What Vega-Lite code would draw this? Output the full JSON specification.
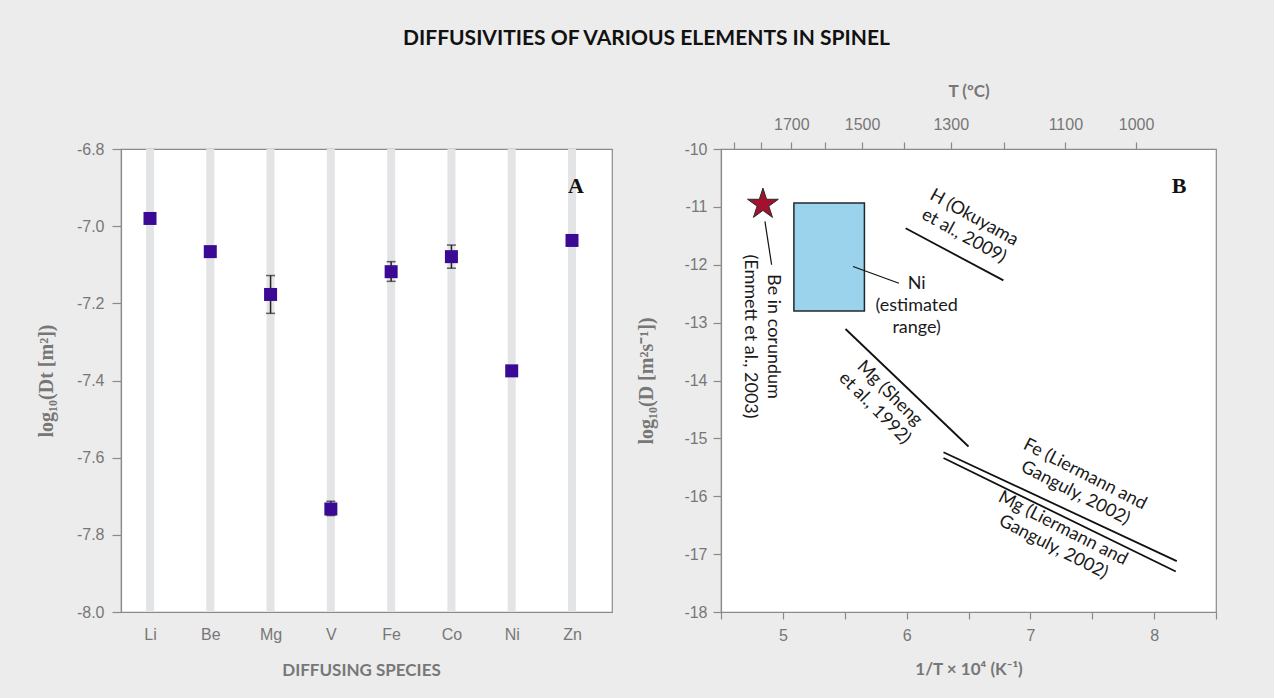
{
  "$schema": "https://vega.github.io/schema/vega-lite/v6.json",
  "background": "#ececec",
  "padding": {"left": 35, "top": 28, "right": 56, "bottom": 22},
  "title": {"text": "DIFFUSIVITIES OF VARIOUS ELEMENTS IN SPINEL", "font": "Lato", "fontSize": 21, "fontWeight": "bold", "color": "#111111", "anchor": "middle", "offset": 32, "dx": 20},
  "datasets": {
    "spinel": [
      {"species": "Li", "logDt": -6.98, "lo": null, "hi": null},
      {"species": "Be", "logDt": -7.066, "lo": null, "hi": null},
      {"species": "Mg", "logDt": -7.177, "lo": -7.226, "hi": -7.128},
      {"species": "V", "logDt": -7.733, "lo": -7.75, "hi": -7.713},
      {"species": "Fe", "logDt": -7.118, "lo": -7.143, "hi": -7.092},
      {"species": "Co", "logDt": -7.079, "lo": -7.109, "hi": -7.049},
      {"species": "Ni", "logDt": -7.375, "lo": null, "hi": null},
      {"species": "Zn", "logDt": -7.037, "lo": null, "hi": null}
    ],
    "segments": [
      {"name": "H (Okuyama et al., 2009)", "kind": "trend", "x": 5.992, "y": -11.37, "x2": 6.782, "y2": -12.27},
      {"name": "Mg (Sheng et al., 1992)", "kind": "trend", "x": 5.506, "y": -13.11, "x2": 6.50, "y2": -15.14},
      {"name": "Fe (Liermann and Ganguly, 2002)", "kind": "trend", "x": 6.298, "y": -15.24, "x2": 8.183, "y2": -17.12},
      {"name": "Mg (Liermann and Ganguly, 2002)", "kind": "trend", "x": 6.298, "y": -15.34, "x2": 8.175, "y2": -17.30},
      {"name": "Be leader", "kind": "leader", "x": 4.855, "y": -11.25, "x2": 4.909, "y2": -12.0},
      {"name": "Ni leader", "kind": "leader", "x": 5.567, "y": -12.03, "x2": 5.938, "y2": -12.32}
    ],
    "boxes": [
      {"name": "Ni (estimated range)", "x": 5.089, "x2": 5.659, "y": -10.933, "y2": -12.80}
    ],
    "stars": [
      {"name": "Be in corundum", "x": 4.839, "y": -10.955}
    ],
    "notes": [
      {"label": "Be in corundum\n(Emmett et al., 2003)", "grp": "vertical", "x": 4.92, "y": -13.24},
      {"label": "Ni\n(estimated\nrange)", "grp": "flat", "x": 6.081, "y": -12.333},
      {"label": "H (Okuyama\net al., 2009)", "grp": "h", "x": 6.544, "y": -11.19},
      {"label": "Mg (Sheng\net al., 1992)", "grp": "sheng", "x": 5.861, "y": -14.226},
      {"label": "Fe (Liermann and\nGanguly, 2002)", "grp": "lg", "x": 7.44, "y": -15.626},
      {"label": "Mg (Liermann and\nGanguly, 2002)", "grp": "lg", "x": 7.262, "y": -16.559}
    ],
    "panelB": [
      {"label": "B", "x": 8.202, "y": -10.64}
    ],
    "panelA": [
      {"label": "A", "species": "Zn", "y": -6.897}
    ]
  },
  "spacing": 109,
  "bounds": "flush",
  "hconcat": [
    {
      "width": 491,
      "height": 463,
      "layer": [
        {
          "data": {"name": "spinel"},
          "mark": {"type": "rule", "color": "#e3e4e6", "strokeWidth": 8},
          "encoding": {
            "x": {"field": "species", "type": "nominal", "sort": null,
                  "scale": {"type": "point", "range": [29, 451], "padding": 0},
                  "axis": {"title": "DIFFUSING SPECIES", "labelAngle": 0, "ticks": false, "labelPadding": 14, "titlePadding": 20}}
          }
        },
        {
          "data": {"name": "spinel"},
          "transform": [{"filter": "datum.lo != null"}],
          "mark": {"type": "rule", "color": "#222222", "strokeWidth": 1.5},
          "encoding": {
            "x": {"field": "species", "type": "nominal", "sort": null},
            "y": {"field": "lo", "type": "quantitative", "scale": {"domain": [-8.0, -6.8], "nice": false, "zero": false}},
            "y2": {"field": "hi"}
          }
        },
        {
          "data": {"name": "spinel"},
          "transform": [{"filter": "datum.lo != null"}],
          "mark": {"type": "tick", "orient": "horizontal", "color": "#222222", "thickness": 1.5, "size": 9},
          "encoding": {
            "x": {"field": "species", "type": "nominal", "sort": null},
            "y": {"field": "lo", "type": "quantitative"}
          }
        },
        {
          "data": {"name": "spinel"},
          "transform": [{"filter": "datum.hi != null"}],
          "mark": {"type": "tick", "orient": "horizontal", "color": "#222222", "thickness": 1.5, "size": 9},
          "encoding": {
            "x": {"field": "species", "type": "nominal", "sort": null},
            "y": {"field": "hi", "type": "quantitative"}
          }
        },
        {
          "data": {"name": "spinel"},
          "mark": {"type": "point", "shape": "square", "filled": true, "size": 169, "color": "#3a0a94", "opacity": 1},
          "encoding": {
            "x": {"field": "species", "type": "nominal", "sort": null},
            "y": {"field": "logDt", "type": "quantitative",
                  "scale": {"domain": [-8.0, -6.8], "nice": false, "zero": false},
                  "axis": {"title": "log₁₀(Dt [m²])", "titleFont": "Liberation Serif", "titleFontSize": 20, "values": [-8.0, -7.8, -7.6, -7.4, -7.2, -7.0, -6.8],
                           "labelExpr": "replace(format(datum.value, '.1f'), '\u2212', '-')",
                           "tickSize": 9, "labelPadding": 8, "titlePadding": 20}}
          }
        },
        {
          "data": {"name": "panelA"},
          "mark": {"type": "text", "font": "Liberation Serif", "fontWeight": "bold", "fontSize": 22, "color": "#111111", "dx": 4},
          "encoding": {
            "x": {"field": "species", "type": "nominal", "sort": null},
            "y": {"field": "y", "type": "quantitative"},
            "text": {"field": "label"}
          }
        }
      ]
    },
    {
      "width": 495,
      "height": 463,
      "resolve": {"scale": {"x": "independent"}},
      "layer": [
        {
          "data": {"name": "boxes"},
          "mark": {"type": "rect", "fill": "#9bd3ec", "stroke": "#1f2a30", "strokeWidth": 1.5},
          "encoding": {
            "x": {"field": "x", "type": "quantitative", "scale": {"domain": [4.5, 8.5], "nice": false, "zero": false},
                  "axis": {"title": "1/T × 10⁴ (K⁻¹)", "values": [4.5, 5, 5.5, 6, 6.5, 7, 7.5, 8, 8.5],
                           "labelExpr": "datum.value % 1 === 0 ? format(datum.value, 'd') : ''",
                           "tickSize": 7, "labelPadding": 8, "titlePadding": 18}},
            "x2": {"field": "x2"},
            "y": {"field": "y", "type": "quantitative", "scale": {"domain": [-18, -10], "nice": false, "zero": false},
                  "axis": {"title": "log₁₀(D [m²s⁻¹])", "titleFont": "Liberation Serif", "titleFontSize": 20, "values": [-18, -17, -16, -15, -14, -13, -12, -11, -10],
                           "labelExpr": "replace(format(datum.value, 'd'), '\u2212', '-')",
                           "tickSize": 8, "labelPadding": 6, "titlePadding": 27}},
            "y2": {"field": "y2"}
          }
        },
        {
          "data": {"name": "segments"},
          "transform": [{"filter": "datum.kind === 'trend'"}],
          "mark": {"type": "rule", "color": "#111111", "strokeWidth": 1.8},
          "encoding": {
            "x": {"field": "x", "type": "quantitative", "scale": {"domain": [4.5, 8.5], "nice": false, "zero": false},
                  "axis": {"orient": "top", "title": "T (ºC)",
                           "values": [4.6016, 4.8236, 5.0680, 5.3386, 5.6397, 5.9767, 6.3567, 6.7882, 7.2825, 7.8545],
                           "labelExpr": "(round(10000 / datum.value - 273.15) === 1000 || (round(10000 / datum.value - 273.15) % 200 === 100 && datum.value > 5)) ? format(round(10000 / datum.value - 273.15), 'd') : ''",
                           "tickSize": 7, "labelPadding": 10, "titlePadding": 16}},
            "x2": {"field": "x2"},
            "y": {"field": "y", "type": "quantitative"},
            "y2": {"field": "y2"}
          }
        },
        {
          "data": {"name": "segments"},
          "transform": [{"filter": "datum.kind === 'leader'"}],
          "mark": {"type": "rule", "color": "#111111", "strokeWidth": 1.2},
          "encoding": {
            "x": {"field": "x", "type": "quantitative", "scale": {"domain": [4.5, 8.5], "nice": false, "zero": false}, "axis": null},
            "x2": {"field": "x2"},
            "y": {"field": "y", "type": "quantitative"},
            "y2": {"field": "y2"}
          }
        },
        {
          "data": {"name": "stars"},
          "mark": {"type": "point", "shape": "M0,-1L0.223,-0.307L0.951,-0.309L0.361,0.117L0.588,0.809L0,0.38L-0.588,0.809L-0.361,0.117L-0.951,-0.309L-0.223,-0.307Z", "filled": true, "size": 1050, "fill": "#a3112e", "stroke": "#2a2a2a", "strokeWidth": 1, "opacity": 1},
          "encoding": {
            "x": {"field": "x", "type": "quantitative", "scale": {"domain": [4.5, 8.5], "nice": false, "zero": false}, "axis": null},
            "y": {"field": "y", "type": "quantitative"}
          }
        },
        {
          "data": {"name": "notes"},
          "transform": [{"filter": "datum.grp === 'vertical'"}],
          "mark": {"type": "text", "font": "Lato", "fontSize": 18, "color": "#1a1a1a", "angle": 90, "align": "center", "baseline": "middle", "lineBreak": "\n", "lineHeight": 23},
          "encoding": {
            "x": {"field": "x", "type": "quantitative", "scale": {"domain": [4.5, 8.5], "nice": false, "zero": false}, "axis": null},
            "y": {"field": "y", "type": "quantitative"},
            "text": {"field": "label"}
          }
        },
        {
          "data": {"name": "notes"},
          "transform": [{"filter": "datum.grp === 'flat'"}],
          "mark": {"type": "text", "font": "Lato", "fontSize": 18, "color": "#1a1a1a", "align": "center", "baseline": "middle", "lineBreak": "\n", "lineHeight": 22},
          "encoding": {
            "x": {"field": "x", "type": "quantitative", "scale": {"domain": [4.5, 8.5], "nice": false, "zero": false}, "axis": null},
            "y": {"field": "y", "type": "quantitative"},
            "text": {"field": "label"}
          }
        },
        {
          "data": {"name": "notes"},
          "transform": [{"filter": "datum.grp === 'h'"}],
          "mark": {"type": "text", "font": "Lato", "fontSize": 18, "color": "#1a1a1a", "angle": 29, "align": "center", "baseline": "middle", "lineBreak": "\n", "lineHeight": 21},
          "encoding": {
            "x": {"field": "x", "type": "quantitative", "scale": {"domain": [4.5, 8.5], "nice": false, "zero": false}, "axis": null},
            "y": {"field": "y", "type": "quantitative"},
            "text": {"field": "label"}
          }
        },
        {
          "data": {"name": "notes"},
          "transform": [{"filter": "datum.grp === 'sheng'"}],
          "mark": {"type": "text", "font": "Lato", "fontSize": 18, "color": "#1a1a1a", "angle": 45, "align": "center", "baseline": "middle", "lineBreak": "\n", "lineHeight": 21},
          "encoding": {
            "x": {"field": "x", "type": "quantitative", "scale": {"domain": [4.5, 8.5], "nice": false, "zero": false}, "axis": null},
            "y": {"field": "y", "type": "quantitative"},
            "text": {"field": "label"}
          }
        },
        {
          "data": {"name": "notes"},
          "transform": [{"filter": "datum.grp === 'lg'"}],
          "mark": {"type": "text", "font": "Lato", "fontSize": 18, "color": "#1a1a1a", "angle": 27, "align": "center", "baseline": "middle", "lineBreak": "\n", "lineHeight": 21},
          "encoding": {
            "x": {"field": "x", "type": "quantitative", "scale": {"domain": [4.5, 8.5], "nice": false, "zero": false}, "axis": null},
            "y": {"field": "y", "type": "quantitative"},
            "text": {"field": "label"}
          }
        },
        {
          "data": {"name": "panelB"},
          "mark": {"type": "text", "font": "Liberation Serif", "fontWeight": "bold", "fontSize": 22, "color": "#111111"},
          "encoding": {
            "x": {"field": "x", "type": "quantitative", "scale": {"domain": [4.5, 8.5], "nice": false, "zero": false}, "axis": null},
            "y": {"field": "y", "type": "quantitative"},
            "text": {"field": "label"}
          }
        }
      ]
    }
  ],
  "config": {
    "view": {"stroke": "#8a8a8a", "strokeWidth": 1.2, "fill": "white"},
    "axis": {
      "grid": false,
      "labelFont": "Liberation Sans",
      "labelFontSize": 16,
      "labelColor": "#777777",
      "titleFont": "Lato",
      "titleFontSize": 17,
      "titleFontWeight": "bold",
      "titleColor": "#777777",
      "domainColor": "#8a8a8a",
      "domainWidth": 1.2,
      "tickColor": "#8a8a8a",
      "tickWidth": 1.2
    }
  }
}
